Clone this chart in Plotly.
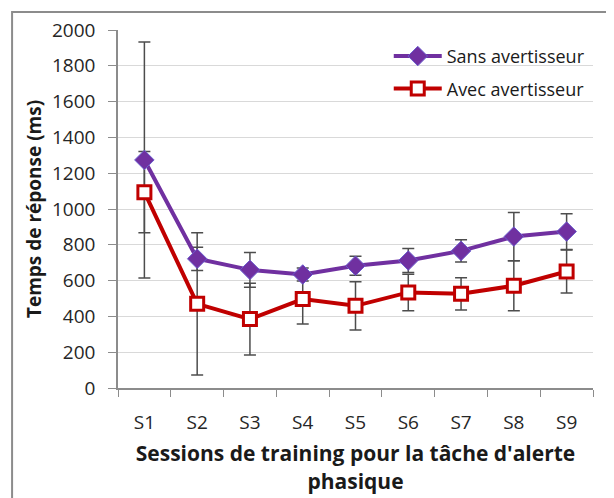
import plotly.graph_objects as go

sessions = ["S1", "S2", "S3", "S4", "S5", "S6", "S7", "S8", "S9"]
sans = [1274, 722, 660, 634, 683, 712, 766, 846, 874]
sans_err = [659, 65, 97, 36, 53, 67, 62, 135, 100]
avec = [1094, 470, 385, 497, 459, 534, 526, 571, 651]
avec_err = [227, 398, 200, 140, 135, 102, 90, 140, 120]

FONT = "Open Sans"
PURPLE = "#7030A0"
RED = "#C00000"
ERR = "#4D4D4D"

fig = go.Figure()

# error bars drawn first (beneath lines)
for vals, errs in ((sans, sans_err), (avec, avec_err)):
    fig.add_trace(go.Scatter(
        x=sessions, y=vals, mode="markers",
        marker=dict(size=1, opacity=0),
        error_y=dict(type="data", array=errs, visible=True,
                     color=ERR, thickness=1.5, width=6),
        showlegend=False, hoverinfo="skip"))

fig.add_trace(go.Scatter(
    x=sessions, y=sans, mode="lines+markers", name="Sans avertisseur",
    line=dict(color=PURPLE, width=4),
    marker=dict(symbol="diamond", size=15, color=PURPLE,
                line=dict(color="#6A5ACD", width=1)),
    legendgroup="a"))

fig.add_trace(go.Scatter(
    x=sessions, y=avec, mode="lines+markers", name="Avec avertisseur",
    line=dict(color=RED, width=4),
    marker=dict(symbol="square", size=13, color="white",
                line=dict(color=RED, width=3)),
    legendgroup="b"))

# page body adds an 8px offset; margins compensate
fig.update_layout(
    width=614, height=498,
    margin=dict(l=110, r=29, t=22, b=118),
    paper_bgcolor="white", plot_bgcolor="white",
    font=dict(family=FONT, size=19, color="#262626"),
    showlegend=True,
    legend=dict(x=0.57, y=0.978, xanchor="left", yanchor="top",
                bgcolor="rgba(0,0,0,0)", font=dict(size=18, color="#1a1a1a"),
                traceorder="grouped", tracegroupgap=6, itemwidth=48),
    xaxis=dict(
        type="category", range=[-0.5, 8.5], automargin=False,
        showgrid=False, showline=True, linecolor="#8C8C8C", linewidth=1.5,
        ticks="outside", tickson="boundaries", ticklen=7, tickcolor="#8C8C8C",
        ticklabelstandoff=16,
        title=dict(text="<b>Sessions de training pour la tâche d'alerte<br>phasique</b>",
                   font=dict(size=21, color="#1a1a1a"), standoff=13),
    ),
    yaxis=dict(
        range=[0, 2000], dtick=200, showgrid=True, gridcolor="#D9D9D9", gridwidth=1,
        showline=True, linecolor="#8C8C8C", linewidth=1.5, automargin=False,
        ticks="outside", ticklen=8, tickcolor="#8C8C8C",
        ticklabelstandoff=9, zeroline=False,
        title=dict(text="<b>Temps de réponse (ms)</b>",
                   font=dict(size=19, color="#1a1a1a"), standoff=5),
    ),
    shapes=[dict(type="rect", xref="paper", yref="paper",
                 x0=-0.223, x1=1.06, y0=-0.34, y1=1.05,
                 line=dict(color="#8C8C8C", width=2), layer="below")],
)

fig.write_html("out.html")
